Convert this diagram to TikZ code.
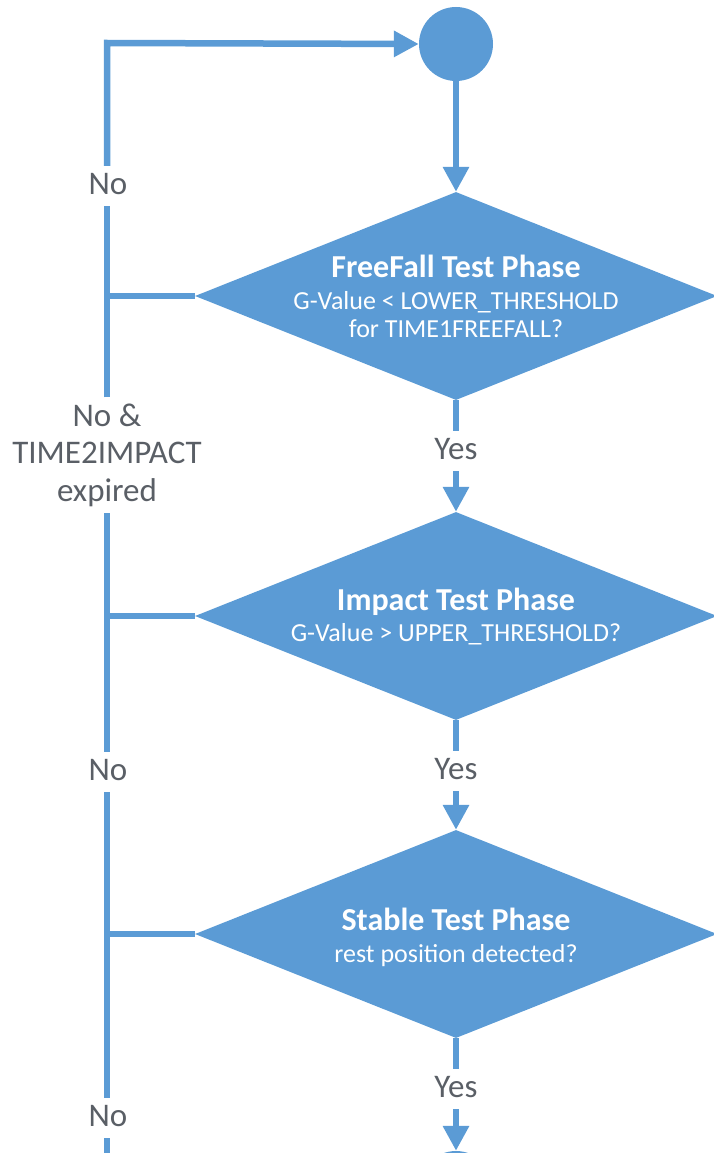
\documentclass[tikz,border=0pt]{standalone}
\usepackage{fontspec}
\setmainfont{Carlito}
\usetikzlibrary{arrows.meta,shapes.geometric}
\definecolor{fcblue}{HTML}{5B9BD5}
\definecolor{fcgray}{HTML}{5A5F66}
\begin{document}
\begin{tikzpicture}[x=1pt,y=-1pt,
  conn/.style={draw=fcblue,line width=6.5pt},
  arr/.style={conn,-{Triangle[length=25pt,width=25pt]}},
  dia/.style={diamond,fill=fcblue,inner sep=0pt,minimum width=522pt,minimum height=208pt},
  dtext/.style={text=white,align=center,font=\fontsize{26}{28}\selectfont},
  lbl/.style={text=fcgray,align=center,inner sep=6pt,text height=22pt,text depth=6pt,font=\fontsize{33}{37.5}\selectfont},
  mlbl/.style={text=fcgray,align=center,inner sep=6pt,font=\fontsize{33}{37.5}\selectfont},
]
\useasboundingbox (0,0) rectangle (713,1153);
\node[circle,fill=fcblue,minimum size=74pt,inner sep=0pt] (start) at (456,44) {};
\node[circle,fill=fcblue,minimum size=74pt,inner sep=0pt] (next) at (456,1188) {};
\node[dia] (d1) at (456,296) {};
\node[dia] (d2) at (456,616) {};
\node[dia] (d3) at (456,934) {};
\node[dtext] (t1) at (456,296) {{\bfseries\fontsize{32}{30}\selectfont FreeFall Test Phase}\\[4pt]G-Value < LOWER\_THRESHOLD\\for TIME1FREEFALL?};
\node[dtext] (t2) at (456,617) {{\bfseries\fontsize{32}{30}\selectfont Impact Test Phase}\\[3pt]G-Value > UPPER\_THRESHOLD?};
\node[dtext] (t3) at (456,937) {{\bfseries\fontsize{32}{30}\selectfont Stable Test Phase}\\[4pt]rest position detected?};
\coordinate (tl) at (107,43);
\coordinate (bl) at (107,1160);
\node[lbl] (y1) at (456,451) {Yes};
\node[lbl] (y2) at (456,771) {Yes};
\node[lbl] (y3) at (456,1089) {Yes};
\node[lbl] (n1) at (108,186) {No};
\node[mlbl] (n2) at (107,455) {No \&\\TIME2IMPACT\\expired};
\node[lbl] (n3) at (108,772) {No};
\node[lbl] (n4) at (108,1118) {No};
% main flow
\draw[arr] (start) -- (d1.north);
\draw[conn] (d1.south) -- (y1);
\draw[arr] (y1) -- (d2.north);
\draw[conn] (d2.south) -- (y2);
\draw[arr] (y2) -- (d3.north);
\draw[conn] (d3.south) -- (y3);
\draw[arr] (y3) -- (next);
% no branches
\draw[arr] (n1.north -| tl) -- (tl) -- (start.west);
\draw[conn] (d1.west) -- (d1.west -| tl);
\draw[conn] (n2.north -| tl) -- (n1.south -| tl);
\draw[conn] (d2.west) -- (d2.west -| tl);
\draw[conn] (n3.north -| tl) -- (n2.south -| tl);
\draw[conn] (d3.west) -- (d3.west -| tl);
\draw[conn] (n4.north -| tl) -- (n3.south -| tl);
\draw[conn] (bl) -- (n4.south -| tl);
\end{tikzpicture}
\end{document}
